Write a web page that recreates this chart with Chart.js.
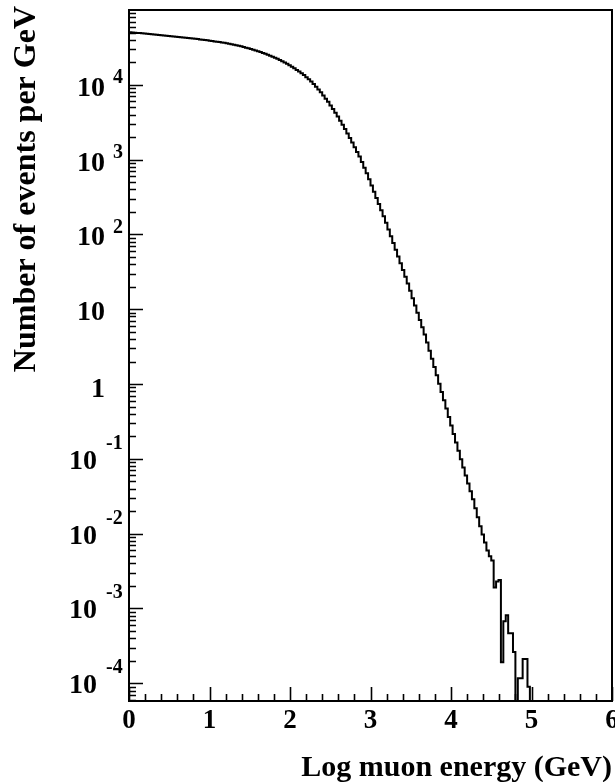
<!DOCTYPE html>
<html>
<head>
<meta charset="utf-8">
<title>Log muon energy</title>
<script src="https://cdn.jsdelivr.net/npm/chart.js@4.4.1/dist/chart.umd.min.js"></script>
<style>
  html, body { margin:0; padding:0; background:#fff; overflow:hidden; }
  #wrap { width:615px; height:782px; position:relative; }
</style>
</head>
<body>
<div id="wrap"><canvas id="histo"></canvas></div>
<script>

/* =========================================
   DATA  (histogram, bins of 0.03 from 0)
========================================= */

const binStart = 0;
const binWidth = 0.03;

// events per GeV, one value per bin
const counts = [
  50550, 50260, 49970, 49680, 49380, 49090, 48800,
  48440, 48060, 47680, 47310, 46930, 46560,
  46190, 45870, 45560, 45250, 44940, 44630, 44320,
  43990, 43650, 43310, 42970, 42620, 42280, 41940,
  41570, 41190, 40810, 40430, 40050, 39680,
  39290, 38880, 38480, 38070, 37660, 37250, 36850,
  36380, 35860, 35350, 34830, 34310, 33790, 33280,
  32660, 32010, 31370, 30730, 30090, 29440,
  28790, 28080, 27360, 26650, 25940, 25220, 24510,
  23770, 23000, 22240, 21470, 20710, 19940, 19180,
  18300, 17440, 16620,
  15810, 15010, 14250,
  13500, 12640, 11840, 11090,
  10230, 9419, 8670,
  7925, 7194, 6531,
  5916, 5297, 4742, 4246,
  3758, 3319, 2931,
  2570, 2239, 1950,
  1697, 1467, 1269, 1098,
  928, 781, 657,
  547, 451, 372,
  306.6, 254.4, 211.1, 175.2,
  142.9, 116.1, 94.4,
  76.7, 62.4, 50.7,
  41.2, 33.5, 27.2, 22.1,
  17.68, 14.08, 11.21,
  8.95, 7.18, 5.75,
  4.59, 3.58, 2.79, 2.18,
  1.689, 1.308, 1.013,
  0.784, 0.607, 0.470,
  0.364, 0.280, 0.215, 0.166,
  0.128, 0.0992, 0.0768,
  0.0599, 0.0470, 0.0369,
  0.0288, 0.0219, 0.0166, 0.0126,
  0.00977, 0.00762, 0.00594,
  0.00501, 0.00437,
  0.00191, 0.00229, 0.00240,
  0.000191, 0.000676, 0.000813, 0.000468, 0.000468, 0.000263,
  0, 0.000117, 0.000117, 0.000211, 0.000211, 0.0000902
];

const xMin = 0;
const xMax = 6;
const yMin = 5.8e-5;
const yMax = 1e5;

const xTickLabels = ['0','1','2','3','4','5','6'];
const xMinorStep = 0.2;

const yDecades = [-4,-3,-2,-1,0,1,2,3,4];

const xTitle = 'Log muon energy (GeV)';
const yTitle = 'Number of events per GeV';


/* =========================================
   POINTS FOR THE STEP LINE
========================================= */

// empty bins sit below the axis minimum so the line drops to the frame
const floorValue = 1e-7;

const points = counts.map((v,i)=>({
  x: binStart + i*binWidth,
  y: v > 0 ? v : floorValue
}));

points.push({
  x: binStart + counts.length*binWidth,
  y: floorValue
});


/* =========================================
   ROOT STYLE FRAME / TICKS / LABELS
========================================= */

const FONT = '"Liberation Serif", "Times New Roman", serif';

const rootFrame = {

  id:'rootFrame',

  afterDatasetsDraw(chart){

    const ctx = chart.ctx;
    const a = chart.chartArea;
    const xs = chart.scales.x;
    const ys = chart.scales.y;

    ctx.save();
    ctx.strokeStyle = '#000';
    ctx.fillStyle = '#000';

    // frame
    ctx.lineWidth = 2;
    ctx.strokeRect(a.left, a.top, a.right-a.left, a.bottom-a.top);

    // x ticks, pointing inward
    ctx.lineWidth = 1.6;
    ctx.beginPath();
    for(let v = xMin; v <= xMax + 1e-9; v += xMinorStep){
      const px = Math.round(xs.getPixelForValue(v)) + 0.5;
      const major = Math.abs(v - Math.round(v)) < 1e-6;
      ctx.moveTo(px, a.bottom);
      ctx.lineTo(px, a.bottom - (major ? 14 : 7));
    }
    ctx.stroke();

    // y ticks (decades long, 2..9 short)
    ctx.beginPath();
    for(let k = -5; k <= 4; k++){
      for(let m = 1; m <= 9; m++){
        const v = m*Math.pow(10,k);
        if(v < yMin || v > yMax) continue;
        const py = Math.round(ys.getPixelForValue(v)) + 0.5;
        ctx.moveTo(a.left, py);
        ctx.lineTo(a.left + (m === 1 ? 14 : 7), py);
      }
    }
    ctx.stroke();

    // x tick labels
    ctx.font = 'bold 27px ' + FONT;
    ctx.textAlign = 'center';
    ctx.textBaseline = 'alphabetic';
    xTickLabels.forEach((t,i)=>{
      ctx.fillText(t, xs.getPixelForValue(i), a.bottom + 27);
    });

    // y tick labels
    yDecades.forEach(k=>{
      const py = ys.getPixelForValue(Math.pow(10,k));
      ctx.font = 'bold 28px ' + FONT;
      ctx.textAlign = 'right';
      if(k === 0){
        ctx.fillText('1', 105, py + 13);
      }else if(k === 1){
        ctx.fillText('10', 105, py + 11);
      }else if(k > 1){
        ctx.fillText('10', 105, py + 11);
        ctx.font = 'bold 20px ' + FONT;
        ctx.textAlign = 'left';
        ctx.fillText(String(k), 113, py - 1.5);
      }else{
        ctx.fillText('10', 97, py + 10);
        ctx.font = 'bold 20px ' + FONT;
        ctx.textAlign = 'left';
        ctx.fillText('-' + Math.abs(k), 106, py - 10);
      }
    });

    // axis titles
    ctx.font = 'bold 30px ' + FONT;
    ctx.textAlign = 'right';
    ctx.fillText(xTitle, a.right, 776);

    ctx.save();
    ctx.font = 'bold 32px ' + FONT;
    ctx.translate(35, a.top - 4);
    ctx.rotate(-Math.PI/2);
    ctx.textAlign = 'right';
    ctx.fillText(yTitle, 0, 0);
    ctx.restore();

    ctx.restore();

  }

};


/* =========================================
   CHART
========================================= */

new Chart(document.getElementById('histo'),{

  type:'line',

  data:{
    datasets:[{
      data:points,
      stepped:'after',
      borderColor:'#000',
      borderWidth:2,
      pointRadius:0,
      fill:false,
      tension:0
    }]
  },

  options:{

    responsive:true,
    maintainAspectRatio:false,
    animation:false,

    layout:{
      padding:{left:129, top:10, right:3, bottom:81}
    },

    plugins:{
      legend:{display:false},
      tooltip:{enabled:false}
    },

    scales:{
      x:{type:'linear', min:xMin, max:xMax, display:false},
      y:{type:'logarithmic', min:yMin, max:yMax, display:false}
    }

  },

  plugins:[rootFrame]

});

</script>
</body>
</html>
